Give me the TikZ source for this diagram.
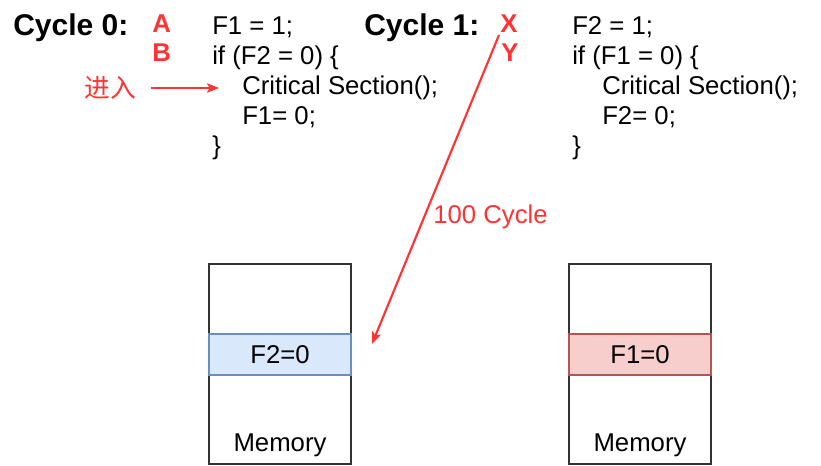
\documentclass[tikz,border=0pt]{standalone}
\usepackage{fontspec}
\setmainfont{Liberation Sans}
\newfontfamily\cjk{Noto Sans CJK SC}
\usepackage{tikz}
\usetikzlibrary{positioning, arrows.meta}
\definecolor{alarm}{HTML}{FF3333}
\definecolor{blueband}{HTML}{DAE8FC}
\definecolor{bluestroke}{HTML}{6C8EBF}
\definecolor{redband}{HTML}{F8CECC}
\definecolor{redstroke}{HTML}{B85450}

\begin{document}
\begin{tikzpicture}[
    x=0.75pt, y=-0.75pt,
    arrow/.style={-{Stealth[length=9pt, width=7pt, inset=2pt]}, line width=1.6pt, alarm},
    code/.style={anchor=base west, inner sep=0pt, font=\fontsize{19.3}{22}\selectfont},
    cycle/.style={anchor=base west, inner sep=0pt, font=\fontsize{22.5}{25}\selectfont\bfseries},
    tag/.style={anchor=base west, inner sep=0pt, text=alarm, font=\fontsize{19.3}{22}\selectfont\bfseries},
    memory/.style={draw=black!80, line width=1.2pt, minimum width=106.5pt, minimum height=150pt, inner sep=0pt},
    band/.style={line width=1.8pt, minimum width=106.5pt, minimum height=30.75pt, inner sep=0pt, font=\fontsize{19.3}{22}\selectfont}
]
    \useasboundingbox (0,0) rectangle (821,466);

    % Cycle 0
    \node[cycle] (cyc0) at (13,36) {Cycle 0:};
    \node[tag] (tagA) at (152,33) {A};
    \node[tag] (tagB) at (152,62) {B};
    \node[code] (a1) at (212,35) {F1 = 1;};
    \node[code] (a2) at (212,65) {if (F2 = 0) \{};
    \node[code] (a3) at (242,95) {Critical Section();};
    \node[code] (a4) at (242,125) {F1= 0;};
    \node[code] (a5) at (212,155) {\}};

    % Cycle 1
    \node[cycle] (cyc1) at (364,36) {Cycle 1:};
    \node[tag] (tagX) at (500,33) {X};
    \node[tag] (tagY) at (501,62) {Y};
    \node[code] (b1) at (572,35) {F2 = 1;};
    \node[code] (b2) at (572,65) {if (F1 = 0) \{};
    \node[code] (b3) at (602,95) {Critical Section();};
    \node[code] (b4) at (602,125) {F2= 0;};
    \node[code] (b5) at (572,155) {\}};

    % Enter arrow
    \node[text=alarm, inner sep=0pt, font=\fontsize{19.3}{22}\selectfont\cjk] (enter) at (110,88) {进入};
    \coordinate (enterTip) at (219,88);
    \draw[arrow] ([xshift=11pt]enter.east) -- (enterTip);

    % Memories
    \node[memory] (mem0) at (280,364) {};
    \node[band, draw=bluestroke, fill=blueband] (f2) at (280,354.5) {F2=0};
    \node[code, anchor=center] (mem0lbl) at (280,445) {Memory};
    \node[memory] (mem1) at (640,364) {};
    \node[band, draw=redstroke, fill=redband] (f1) at (640,354.5) {F1=0};
    \node[code, anchor=center] (mem1lbl) at (640,445) {Memory};

    % 100 Cycle arrow
    \coordinate (readStart) at (499,35);
    \coordinate (readEnd) at (372,344);
    \draw[arrow] (readStart) -- (readEnd);
    \node[code, anchor=west, text=alarm] (delay) at (433,217) {100 Cycle};

\end{tikzpicture}
\end{document}
